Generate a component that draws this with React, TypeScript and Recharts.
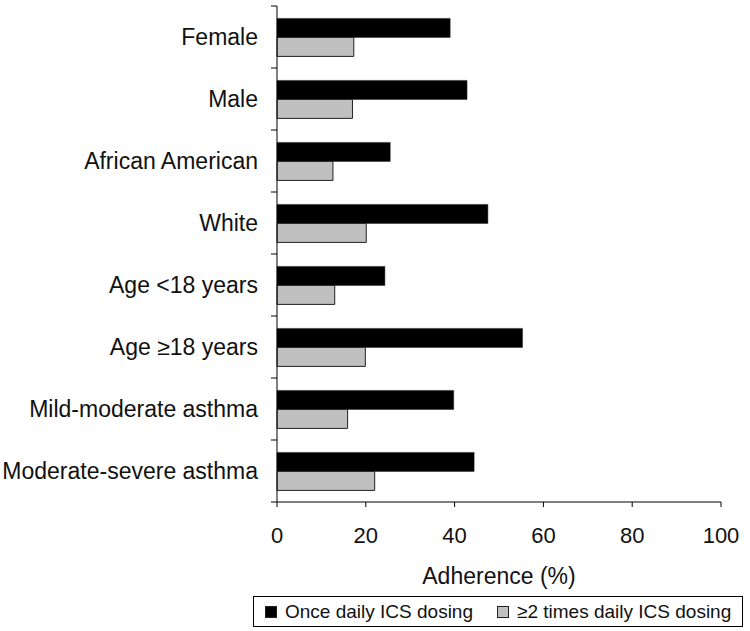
import React from "react";
import { BarChart, Bar, XAxis, YAxis, Legend } from "recharts";

const categories = [
  "Female",
  "Male",
  "African American",
  "White",
  "Age <18 years",
  "Age \u226518 years",
  "Mild-moderate asthma",
  "Moderate-severe asthma",
];
const onceDaily = [39.0, 42.8, 25.5, 47.5, 24.3, 55.3, 39.8, 44.4];
const twiceDaily = [17.3, 17.0, 12.6, 20.1, 13.0, 19.9, 15.9, 22.0];
const xTicks = [0, 20, 40, 60, 80, 100];

const data = categories.map((name, i) => ({
  name,
  once: onceDaily[i],
  twice: twiceDaily[i],
}));

const FONT = "'Liberation Sans', Arial, sans-serif";
const TICK_SIZE = 6;
const TICK_MARGIN = 13;

const YTick = (props: any) => {
  const { x, y, payload, index } = props;
  const half = payload && payload.offset ? payload.offset : 31;
  const axisX = x + TICK_SIZE + TICK_MARGIN;
  return (
    <g>
      {index === 0 && (
        <line x1={axisX - TICK_SIZE} x2={axisX} y1={y - half} y2={y - half} stroke="#000" strokeWidth={1} />
      )}
      <line x1={axisX - TICK_SIZE} x2={axisX} y1={y + half} y2={y + half} stroke="#000" strokeWidth={1} />
      <text x={x} y={y} dy="0.35em" textAnchor="end" fontSize={23} fontFamily={FONT} fill="#111">
        {payload.value}
      </text>
    </g>
  );
};

const LegendContent = (props: any) => {
  const items = props.payload || [];
  return (
    <div
      style={{
        boxSizing: "border-box",
        width: 490,
        height: 31,
        border: "1px solid #000",
        display: "flex",
        alignItems: "center",
        paddingLeft: 11,
        fontFamily: FONT,
        fontSize: 19,
        color: "#111",
        background: "#fff",
      }}
    >
      {items.map((it: any, i: number) => (
        <div key={i} style={{ display: "flex", alignItems: "center", marginRight: i === 0 ? 24 : 0 }}>
          <span
            style={{
              display: "inline-block",
              width: 12,
              height: 12,
              boxSizing: "border-box",
              background: it.color,
              border: "1px solid #222",
              marginRight: 8,
            }}
          />
          <span>{it.value}</span>
        </div>
      ))}
    </div>
  );
};

export default function App() {
  return (
    <div style={{ position: "absolute", left: 0, top: 0, width: 750, height: 631, background: "#fff" }}>
      <BarChart
        width={750}
        height={631}
        data={data}
        layout="vertical"
        margin={{ top: 6, right: 29, left: 0, bottom: 44 }}
        barCategoryGap="20%"
        barGap={0}
      >
        <XAxis
          type="number"
          domain={[0, 100]}
          ticks={xTicks}
          interval={0}
          height={85}
          axisLine={{ stroke: "#000", strokeWidth: 1 }}
          tickLine={{ stroke: "#000", strokeWidth: 1 }}
          tickSize={5}
          tickMargin={20}
          tick={{ fontSize: 22, fontFamily: FONT, fill: "#111" }}
          label={{
            value: "Adherence (%)",
            position: "insideBottom",
            offset: 3,
            fontSize: 23,
            fontFamily: FONT,
            fill: "#111",
          }}
        />
        <YAxis
          type="category"
          dataKey="name"
          width={277}
          interval={0}
          axisLine={{ stroke: "#000", strokeWidth: 1 }}
          tickLine={false}
          tickSize={TICK_SIZE}
          tickMargin={TICK_MARGIN}
          tick={<YTick />}
        />
        <Legend
          layout="horizontal"
          verticalAlign="middle"
          align="center"
          content={<LegendContent />}
          wrapperStyle={{ left: 253, top: 596, width: 490, height: 31 }}
        />
        <Bar dataKey="once" name="Once daily ICS dosing" fill="#000" stroke="#222" strokeWidth={0.5} isAnimationActive={false} />
        <Bar dataKey="twice" name={"\u22652 times daily ICS dosing"} fill="#c0c0c0" stroke="#222" strokeWidth={1} isAnimationActive={false} />
      </BarChart>
    </div>
  );
}
